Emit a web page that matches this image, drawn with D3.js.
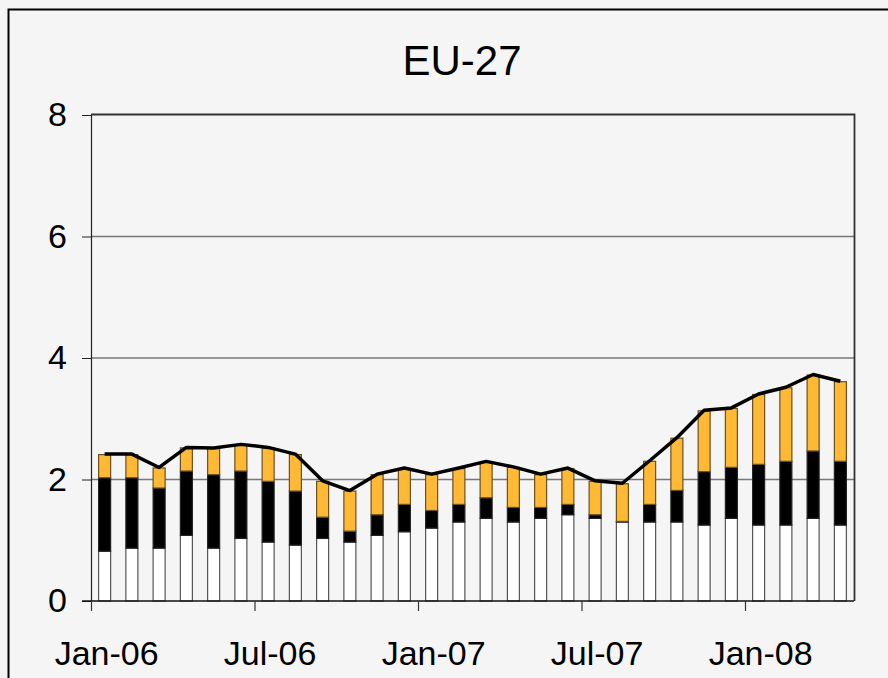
<!DOCTYPE html>
<meta charset="utf-8">
<script src="https://d3js.org/d3.v7.min.js"></script>
<style>
  body { margin: 0; background: #f4f4f4; }
  svg { display: block; font-family: "Liberation Sans", Arial, sans-serif; }
</style>
<div id="div_chart"></div>
<script>

// categories: one bar per month
var months = ["Jan-06","Feb-06","Mar-06","Apr-06","May-06","Jun-06","Jul-06","Aug-06","Sep-06","Oct-06","Nov-06","Dec-06",
              "Jan-07","Feb-07","Mar-07","Apr-07","May-07","Jun-07","Jul-07","Aug-07","Sep-07","Oct-07","Nov-07","Dec-07",
              "Jan-08","Feb-08","Mar-08","Apr-08"];

// stacked parts (bottom to top)
var whitePart  = [0.82,0.87,0.87,1.08,0.87,1.03,0.97,0.92,1.03,0.97,1.08,1.14,1.20,1.30,1.36,1.30,1.36,1.42,1.36,1.30,1.30,1.30,1.25,1.36,1.25,1.25,1.36,1.25];
var blackPart  = [1.21,1.16,0.99,1.06,1.21,1.11,1.00,0.89,0.35,0.18,0.34,0.45,0.29,0.29,0.34,0.24,0.18,0.17,0.06,0.01,0.29,0.52,0.88,0.84,1.00,1.05,1.11,1.05];
var orangePart = [0.38,0.38,0.33,0.38,0.43,0.43,0.55,0.60,0.59,0.66,0.66,0.59,0.59,0.59,0.59,0.66,0.54,0.59,0.55,0.62,0.71,0.86,1.00,0.97,1.15,1.21,1.25,1.31];

var yTicks = [0, 2, 4, 6, 8];
var xLabels = ["Jan-06", "Jul-06", "Jan-07", "Jul-07", "Jan-08"];
var xTickMonths = ["Jan-06", "Jul-06", "Jan-07", "Jul-07", "Jan-08"];

var width = 888, height = 678;
var plotLeft = 91, plotRight = 854, plotTop = 115, plotBottom = 601;

var svg = d3.select("#div_chart")
  .append("svg")
    .attr("width", width)
    .attr("height", height);

// chart frame
svg.append("rect")
  .attr("x", 8.5).attr("y", 9.5)
  .attr("width", 930).attr("height", 700)
  .attr("fill", "#f5f5f5")
  .attr("stroke", "#000")
  .attr("stroke-width", 2);

// title
svg.append("text")
  .attr("x", 462)
  .attr("y", 75)
  .attr("text-anchor", "middle")
  .style("font-size", "42px")
  .text("EU-27");

var x = d3.scaleBand()
  .domain(months)
  .range([plotLeft, plotRight])
  .padding(0);

var y = d3.scaleLinear()
  .domain([0, 8])
  .range([plotBottom, plotTop]);

// gridlines
svg.append("g")
  .selectAll("line")
  .data(yTicks.slice(1, -1))
  .enter()
  .append("line")
    .attr("x1", plotLeft).attr("x2", plotRight)
    .attr("y1", function(d){ return y(d) })
    .attr("y2", function(d){ return y(d) })
    .attr("stroke", "#777")
    .attr("stroke-width", 1.5);

// plot border (top + right)
svg.append("path")
  .attr("d", "M" + plotLeft + "," + (plotTop - 0.5) + "H" + (plotRight + 0.5) + "V" + plotBottom)
  .attr("fill", "none")
  .attr("stroke", "#333")
  .attr("stroke-width", 1.8);

// stack the data
var table = months.map(function(m, i){
  return { month: m, white: whitePart[i], black: blackPart[i], orange: orangePart[i] };
});
var keys = ["white", "black", "orange"];
var fills = { white: "#ffffff", black: "#000000", orange: "#ffb934" };
var strokes = { white: "#555", black: "#222", orange: "#6b5020" };
var series = d3.stack().keys(keys)(table);

var barW = 12;
svg.append("g")
  .selectAll("g")
  .data(series)
  .enter()
  .append("g")
    .attr("fill", function(d){ return fills[d.key] })
    .attr("stroke", function(d){ return strokes[d.key] })
    .attr("stroke-width", 1.2)
  .selectAll("rect")
  .data(function(d){ return d })
  .enter()
  .append("rect")
    .attr("x", function(d){ return x(d.data.month) + x.bandwidth()/2 - barW/2 })
    .attr("y", function(d){ return y(d[1]) })
    .attr("width", barW)
    .attr("height", function(d){ return y(d[0]) - y(d[1]) });

// total line
var line = d3.line()
  .x(function(d){ return x(d.month) + x.bandwidth()/2 })
  .y(function(d){ return y(d.white + d.black + d.orange) - 0.5 });

svg.append("path")
  .datum(table)
  .attr("d", line)
  .attr("fill", "none")
  .attr("stroke", "#000")
  .attr("stroke-width", 3.5)
  .attr("stroke-linejoin", "round");

// y axis
var yAxis = d3.axisLeft(y)
  .tickValues(yTicks)
  .tickSize(9)
  .tickPadding(15)
  .tickFormat(d3.format("d"));

var gy = svg.append("g")
  .attr("transform", "translate(" + plotLeft + ",0)")
  .call(yAxis);
gy.select(".domain").attr("stroke", "#222").attr("stroke-width", 1.2);
gy.selectAll(".tick line").attr("stroke", "#222");
gy.selectAll("text")
  .style("font-size", "34px")
  .attr("fill", "#000")
  .style("font-family", "'Liberation Sans', Arial, sans-serif");

// x axis: baseline, ticks every 6 months at band edge, labels centred on band
svg.append("line")
  .attr("x1", plotLeft - 9).attr("x2", plotRight)
  .attr("y1", plotBottom).attr("y2", plotBottom)
  .attr("stroke", "#111")
  .attr("stroke-width", 1.5);

svg.append("g")
  .selectAll("line")
  .data(xTickMonths)
  .enter()
  .append("line")
    .attr("x1", function(d){ return x(d) + 0.5 })
    .attr("x2", function(d){ return x(d) + 0.5 })
    .attr("y1", plotBottom)
    .attr("y2", plotBottom + 10)
    .attr("stroke", "#333")
    .attr("stroke-width", 1.2);

svg.append("g")
  .selectAll("text")
  .data(xLabels)
  .enter()
  .append("text")
    .attr("x", function(d){ return x(d) + x.bandwidth()/2 + 2 })
    .attr("y", 665)
    .attr("text-anchor", "middle")
    .style("font-size", "34px")
    .text(function(d){ return d });

</script>
